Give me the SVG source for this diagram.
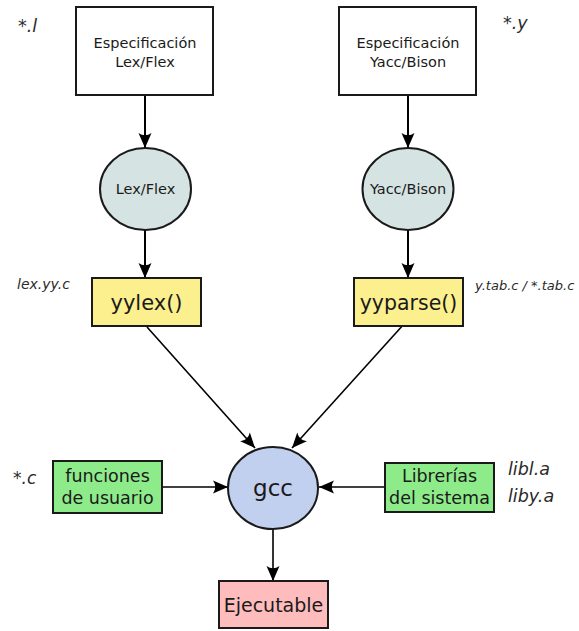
<svg xmlns="http://www.w3.org/2000/svg" width="579" height="631" viewBox="0 0 579 631">
<style>
text{font-family:"DejaVu Sans","Liberation Sans",sans-serif;fill:#1a1a1a;text-anchor:middle}
.lbl{font-style:italic;text-anchor:start;fill:#2a2a2a}
.box{stroke:#1a1a1a;stroke-width:2}
.spec{fill:#ffffff}
.tool{fill:#d6e3e3}
.yel{fill:#fbf08d}
.grn{fill:#8eeb8a}
.red{fill:#ffbcbc}
.gcc{fill:#c2d0f0}
.edge{fill:none;stroke:#000;stroke-width:2;marker-end:url(#arr)}
.thin{stroke-width:1.6}
.t14{font-size:14.5px}
.t17{font-size:17.5px}
</style>
<defs>
<marker id="arr" markerUnits="userSpaceOnUse" markerWidth="16" markerHeight="14" refX="15" refY="7" orient="auto" overflow="visible">
<path d="M0,0.5 L15,7 L0,13.5 Q4.5,7 0,0.5 Z" fill="#000"/>
</marker>
</defs>

<g id="connectors">
<line class="edge" x1="145" y1="96" x2="145" y2="148"/>
<line class="edge" x1="145" y1="230" x2="145" y2="278"/>
<line class="edge" x1="408" y1="96" x2="408" y2="148"/>
<line class="edge" x1="408" y1="230" x2="408" y2="278"/>
<line class="edge thin" x1="147" y1="327" x2="255" y2="448"/>
<line class="edge thin" x1="404" y1="324" x2="292" y2="448"/>
<line class="edge thin" x1="162" y1="487" x2="228" y2="487"/>
<line class="edge thin" x1="385" y1="487" x2="319" y2="487"/>
<line class="edge thin" x1="273" y1="529" x2="273" y2="581"/>
</g>

<g id="lex-spec">
<rect class="box spec" x="76" y="7" width="137" height="88"/>
<text class="t14" x="145" y="48">Especificación</text>
<text class="t14" x="145" y="67">Lex/Flex</text>
</g>
<g id="yacc-spec">
<rect class="box spec" x="339" y="7" width="137" height="88"/>
<text class="t14" x="408" y="48">Especificación</text>
<text class="t14" x="408" y="67">Yacc/Bison</text>
</g>
<g id="lex-tool">
<ellipse class="box tool" cx="145.5" cy="189" rx="45.5" ry="41"/>
<text class="t14" x="145.5" y="194">Lex/Flex</text>
</g>
<g id="yacc-tool">
<ellipse class="box tool" cx="408" cy="189" rx="45.5" ry="41"/>
<text class="t14" x="408" y="194">Yacc/Bison</text>
</g>
<g id="yylex">
<rect class="box yel" x="92" y="278" width="109" height="48"/>
<text x="146.5" y="310" style="font-size:21px">yylex()</text>
</g>
<g id="yyparse">
<rect class="box yel" x="354" y="278" width="109" height="48"/>
<text x="408.5" y="310" style="font-size:20.5px">yyparse()</text>
</g>
<g id="funciones">
<rect class="box grn" x="53" y="461" width="109" height="52"/>
<text class="t17" x="107.5" y="482">funciones</text>
<text class="t17" x="107.5" y="504">de usuario</text>
</g>
<g id="gcc">
<ellipse class="box gcc" cx="273" cy="488" rx="45" ry="41"/>
<text x="273" y="496" style="font-size:23px">gcc</text>
</g>
<g id="librerias">
<rect class="box grn" x="385" y="463" width="109" height="49"/>
<text class="t17" x="439.5" y="482">Librerías</text>
<text class="t17" x="439.5" y="504">del sistema</text>
</g>
<g id="ejecutable">
<rect class="box red" x="219" y="581" width="109" height="47"/>
<text x="273.5" y="612" style="font-size:19px">Ejecutable</text>
</g>

<g id="labels">
<text class="lbl" x="18" y="32" style="font-size:17.5px">*.l</text>
<text class="lbl" x="503" y="29" style="font-size:17.5px">*.y</text>
<text class="lbl" x="17" y="289" style="font-size:14px">lex.yy.c</text>
<text class="lbl" x="475" y="290" style="font-size:13px">y.tab.c / *.tab.c</text>
<text class="lbl" x="13" y="484" style="font-size:17px">*.c</text>
<text class="lbl" x="508" y="475" style="font-size:17.5px">libl.a</text>
<text class="lbl" x="508" y="502" style="font-size:17.5px">liby.a</text>
</g>
</svg>
